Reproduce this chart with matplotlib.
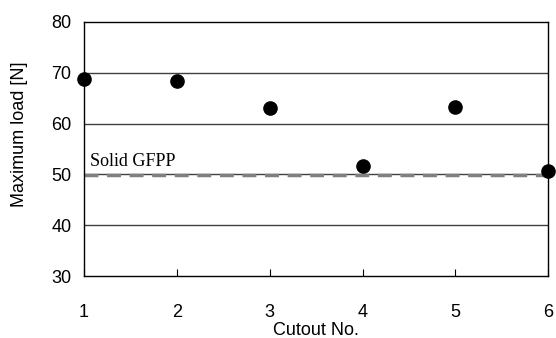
import matplotlib.pyplot as plt

cutout = [1, 2, 3, 4, 5, 6]
max_load = [68.8, 68.4, 63.1, 51.6, 63.2, 50.7]
solid_gfpp = 49.8
y_ticks = [30, 40, 50, 60, 70, 80]

plt.rcParams['font.family'] = ['Liberation Sans', 'DejaVu Sans']

fig = plt.figure(figsize=(5.56, 3.38), dpi=100)
ax = fig.add_axes([0.151, 0.183, 0.835, 0.752])

for y in y_ticks[1:-1]:
    ax.axhline(y, color='#404040', lw=1.0, zorder=1)

ax.axhline(solid_gfpp, color='#808080', lw=2.5, ls=(0, (4, 2.5)), zorder=2)
ax.text(1.07, solid_gfpp + 1.1, 'Solid GFPP', family='Liberation Serif',
        fontsize=13, ha='left', va='bottom')

ax.plot(cutout, max_load, 'o', color='black', markersize=9.5, clip_on=False, zorder=3)

ax.set_xlim(1, 6)
ax.set_ylim(30, 80)
ax.set_xticks(cutout)
ax.set_yticks(y_ticks)
ax.tick_params(axis='x', direction='in', length=5, pad=20, labelsize=13)
ax.tick_params(axis='y', length=0, pad=9, labelsize=13)
ax.set_xlabel('Cutout No.', fontsize=13, labelpad=1)
ax.set_ylabel('Maximum load [N]', fontsize=13)
ax.yaxis.set_label_coords(-0.12, 0.56)

for s in ax.spines.values():
    s.set_linewidth(1.0)
    s.set_color('black')

fig.savefig('out.png', dpi=100)
